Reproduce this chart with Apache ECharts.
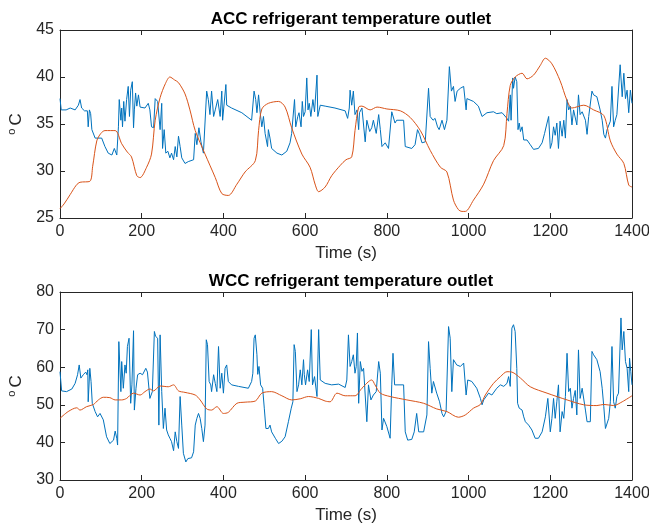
<!DOCTYPE html>
<html>
<head>
<meta charset="utf-8">
<script src="https://cdn.jsdelivr.net/npm/echarts@6/dist/echarts.min.js"></script>
<style>
html,body{margin:0;padding:0;background:#fff;}
#chart{width:649px;height:532px;}
</style>
</head>
<body>
<div id="chart"></div>
<script>
// ---- Data (time in s, temperature in degC) ----
var titles = ['ACC refrigerant temperature outlet', 'WCC refrigerant temperature outlet'];
var xTicks = [0, 200, 400, 600, 800, 1000, 1200, 1400];

var accBlueT = [0,3,15,25,37,45,49,53,60,67,69,72,75,78,86,102,110,118,127,133,139,143,145,149,151,153,156,159,163,167,170,173,177,180,182,185,188,192,196,208,216,220,224,229,233,239,242,245,249,251,255,259,264,269,273,278,282,286,290,294,298,302,306,314,327,331,335,340,345,351,355,359,363,367,371,376,380,386,392,396,398,406,408,420,445,469,475,479,482,486,490,494,498,502,508,510,514,518,531,543,555,563,567,574,577,582,585,590,593,596,600,604,607,610,614,619,623,629,631,637,649,673,698,704,708,710,714,718,722,727,731,733,739,747,751,758,763,767,774,780,784,788,796,804,808,812,815,820,824,841,845,849,861,869,875,880,886,894,902,906,913,918,924,928,935,941,947,953,958,963,967,972,980,988,992,994,996,1012,1024,1033,1045,1061,1069,1082,1094,1098,1102,1104,1108,1110,1114,1118,1121,1124,1127,1131,1135,1143,1151,1159,1171,1180,1186,1192,1196,1200,1204,1208,1212,1216,1220,1224,1229,1233,1237,1241,1245,1249,1253,1257,1261,1265,1269,1273,1278,1286,1290,1294,1302,1306,1314,1322,1327,1331,1335,1339,1347,1351,1355,1359,1363,1371,1376,1380,1384,1388,1392,1396,1400];
var accBlueV = [37.7,36.5,36.5,36.7,36.5,37.0,37.6,36.7,36.4,36.4,34.7,36.5,36.1,34.4,33.5,33.5,32.6,31.9,31.7,32.4,31.7,34.7,37.6,35.4,36.7,34.7,37.4,35.3,37.6,39.0,35.8,38.6,39.5,34.6,36.5,38.3,36.9,38.1,36.8,36.7,37.2,36.5,34.7,34.6,37.7,37.4,37.6,34.4,37.2,32.4,34.4,31.9,32.1,31.4,31.9,31.2,32.6,31.5,33.7,32.6,31.4,31.2,30.8,31.0,31.2,34.0,32.8,34.6,33.1,31.9,32.1,38.5,37.6,36.0,38.5,35.8,36.5,37.6,35.8,38.5,35.4,39.2,37.0,36.7,36.2,35.4,38.5,37.6,36.2,38.1,36.2,34.7,35.8,34.0,32.6,34.4,33.5,32.4,31.9,31.7,32.1,33.0,34.0,37.6,34.7,35.8,36.2,34.7,37.4,35.8,36.3,39.9,36.5,37.2,35.8,37.6,36.3,40.2,35.8,37.0,36.9,36.7,36.4,35.6,36.7,38.6,37.0,38.5,36.0,36.5,34.4,36.2,36.7,33.1,35.4,34.2,34.6,35.4,34.0,36.0,34.4,32.6,33.0,32.4,32.3,36.3,36.5,35.1,35.4,35.4,32.6,32.4,32.4,32.8,34.4,33.9,33.0,33.1,38.8,35.8,35.4,35.6,34.7,34.4,35.4,34.4,35.4,41.1,38.5,39.0,37.4,38.5,38.8,39.0,39.2,36.5,37.7,37.4,36.9,35.8,36.2,36.3,36.1,36.2,35.6,35.3,38.1,35.4,39.9,38.8,40.0,39.5,34.4,35.1,34.2,34.7,33.3,33.3,32.8,32.3,32.4,33.0,34.0,35.1,35.8,32.4,33.0,34.7,33.8,35.1,32.4,35.3,33.7,35.4,33.5,37.6,36.5,36.9,34.9,36.5,36.5,34.9,38.1,36.0,36.3,35.4,33.9,35.8,38.5,38.1,37.9,36.5,35.4,33.9,33.5,34.4,35.3,39.0,34.7,35.4,36.0,41.3,37.9,40.4,37.7,38.6,36.2,38.6,37.2];

var accRedT = [0,10,25,40,49,73,80,90,100,110,135,151,165,175,188,196,212,224,233,245,258,269,280,290,306,318,331,355,380,396,412,433,453,478,486,494,510,535,551,567,592,612,625,633,649,665,686,700,714,722,731,739,759,776,800,833,857,882,906,931,947,963,975,984,992,1012,1037,1061,1086,1094,1102,1114,1131,1143,1159,1175,1188,1204,1224,1241,1253,1282,1306,1331,1347,1363,1380,1392,1400];
var accRedV = [26.0,26.5,27.5,28.5,28.8,28.9,30.5,33.2,34.0,34.3,34.3,32.9,32.0,31.5,29.5,29.3,30.4,31.8,35.4,37.8,39.3,40.0,39.7,39.4,38.2,36.5,34.3,31.8,29.3,27.6,27.4,28.6,29.9,31.1,34.3,36.6,37.2,37.4,36.8,34.6,31.8,30.4,28.5,27.8,28.3,29.5,30.6,31.2,31.5,34.3,36.8,36.9,36.5,36.8,36.6,36.4,35.7,34.3,32.2,30.4,29.9,26.9,25.9,25.7,25.7,26.9,28.6,31.1,32.7,36.1,39.1,40.0,40.4,39.8,40.2,41.2,42.0,41.4,39.6,37.5,36.7,37.0,36.5,35.9,33.2,31.8,30.8,28.5,28.3];

var wccBlueT = [0,4,16,29,37,43,47,51,57,63,66,68,69,73,76,79,86,92,98,106,114,122,131,135,139,141,144,149,151,155,159,162,165,169,173,176,180,182,186,190,196,202,210,214,220,226,231,234,239,242,245,249,253,257,261,265,269,273,278,282,286,290,294,298,302,308,313,322,327,331,335,339,343,347,351,355,358,361,365,369,371,376,380,384,388,392,396,400,404,408,412,420,437,461,469,472,475,478,482,484,487,491,496,500,504,507,510,514,518,527,535,543,551,555,559,566,570,573,576,580,584,588,592,596,598,601,606,610,615,618,623,629,633,637,649,665,682,698,702,706,710,714,718,722,725,728,731,735,739,743,751,755,761,767,774,780,784,788,792,800,808,812,815,819,841,845,851,861,867,873,878,890,898,902,906,910,914,922,929,935,939,945,951,955,959,963,971,980,988,994,998,1008,1020,1029,1033,1037,1049,1057,1069,1078,1086,1094,1098,1102,1106,1110,1114,1118,1120,1124,1131,1135,1139,1147,1155,1163,1171,1180,1188,1194,1200,1204,1208,1212,1216,1220,1224,1229,1233,1237,1241,1245,1249,1253,1257,1261,1265,1269,1273,1278,1286,1290,1298,1302,1306,1314,1322,1327,1331,1335,1339,1343,1347,1351,1355,1359,1363,1367,1373,1376,1380,1384,1388,1392,1394,1397,1400];
var wccBlueV = [58.8,53.7,53.5,54.2,55.7,58.0,60.6,57.1,58.0,58.7,58.0,59.3,50.8,59.7,56.2,50.4,48.2,46.8,47.7,46.0,41.5,39.7,40.6,43.0,41.1,39.3,66.8,53.5,61.5,54.4,60.6,58.4,65.5,67.7,50.4,55.3,69.7,48.6,54.4,58.0,58.4,58.0,59.7,58.7,51.7,53.5,69.5,68.2,67.7,44.6,68.6,53.5,43.7,49.1,43.3,42.0,41.1,40.2,37.8,42.8,40.2,38.4,52.2,44.6,37.1,34.8,35.7,35.9,37.5,44.6,46.4,47.7,46.4,43.7,40.2,44.6,67.3,66.0,56.2,55.3,53.5,58.0,55.7,53.5,65.5,54.4,58.4,53.1,59.7,60.6,56.2,55.3,54.9,54.4,56.2,58.4,67.7,68.6,63.3,58.1,60.2,55.3,54.4,49.1,43.7,44.2,43.7,44.6,42.8,41.1,39.7,40.3,41.5,42.0,45.5,49.1,50.8,66.0,64.2,53.5,55.3,59.3,55.3,62.0,58.0,55.3,59.3,56.2,70.0,55.3,57.5,52.2,70.0,56.6,55.7,55.3,55.5,54.6,56.6,68.6,60.2,61.5,63.3,58.4,60.2,69.1,50.4,61.5,58.9,59.7,45.5,55.3,51.3,52.6,53.5,61.5,58.4,43.3,46.4,44.2,41.1,55.3,63.7,55.3,55.3,42.8,40.6,40.8,42.8,47.7,42.8,42.8,47.3,66.8,59.7,53.1,56.2,53.1,50.8,47.7,46.8,48.2,70.8,67.7,53.5,62.0,60.6,60.2,61.1,52.6,56.6,56.2,54.4,51.7,50.0,51.3,53.1,52.6,54.4,55.3,54.9,55.7,57.5,54.9,70.4,71.3,69.5,59.7,50.4,49.1,48.6,46.8,45.5,44.6,43.3,41.1,41.1,42.8,46.8,51.7,42.8,46.4,51.7,46.4,50.8,55.3,42.8,48.2,46.4,52.2,63.7,53.5,54.4,49.1,51.7,53.8,47.3,64.6,51.7,54.4,48.6,45.5,45.5,64.2,63.3,62.0,58.8,54.4,49.5,43.7,43.3,46.4,50.8,65.5,50.8,49.1,52.2,53.1,73.1,64.6,69.5,61.5,59.7,53.5,62.4,58.9,55.3];

var wccRedT = [0,20,41,49,65,82,94,106,122,135,151,163,180,196,208,220,229,245,265,278,290,306,331,343,359,371,384,400,412,433,453,478,494,518,543,567,588,608,633,649,661,678,698,722,739,763,771,784,808,849,890,922,947,975,992,1012,1029,1041,1061,1078,1094,1106,1127,1151,1192,1241,1282,1314,1331,1355,1376,1400];
var wccRedV = [46.4,48.2,49.2,48.6,49.5,50.1,51.3,52.0,51.9,51.3,51.3,51.7,53.1,52.6,53.5,54.2,53.7,55.0,54.8,55.3,53.7,53.3,52.6,51.3,48.9,48.6,49.5,47.7,48.0,50.4,50.7,51.0,53.1,53.5,52.4,51.3,51.6,52.2,51.7,51.0,50.8,53.1,52.4,52.4,54.4,56.6,55.3,53.1,52.2,51.3,50.4,48.9,48.2,46.7,47.3,49.1,50.1,52.6,55.7,57.5,58.8,58.7,57.1,54.8,53.1,51.3,50.0,49.8,50.1,49.8,50.8,52.4];

function pairs(t, v) { return t.map(function (x, i) { return [x, v[i]]; }); }

var AX = '#262626';
var BLUE = '#0072BD';
var RED = '#D95319';
var FONT = '"Liberation Sans", Arial, Helvetica, sans-serif';

function xAxisDef(grid, bottom) {
  return {
    type: 'value', gridIndex: grid, min: 0, max: 1400, interval: 200,
    position: bottom ? 'bottom' : 'top',
    name: bottom ? 'Time (s)' : '', nameLocation: 'middle', nameGap: 27,
    nameTextStyle: { color: AX, fontSize: 17, fontFamily: FONT },
    axisLine: { show: true, onZero: false, lineStyle: { color: AX, width: 1 } },
    axisTick: { show: true, inside: true, length: 5, lineStyle: { color: AX } },
    axisLabel: { show: bottom, color: AX, fontSize: 16, fontFamily: FONT, margin: 6,
      formatter: function (v) { return String(v); } },
    splitLine: { show: false }
  };
}
function yAxisDef(grid, left, min, max, interval) {
  return {
    type: 'value', gridIndex: grid, min: min, max: max, interval: interval,
    position: left ? 'left' : 'right',
    name: left ? '{s|o} {n|C}' : '', nameLocation: 'middle', nameGap: 34, nameRotate: 90,
    nameTextStyle: {
      color: AX, fontFamily: FONT,
      rich: {
        s: { fontSize: 11, fontFamily: FONT, color: AX, verticalAlign: 'top', lineHeight: 20 },
        n: { fontSize: 17, fontFamily: FONT, color: AX, lineHeight: 20 }
      }
    },
    axisLine: { show: true, onZero: false, lineStyle: { color: AX, width: 1 } },
    axisTick: { show: true, inside: true, length: 5, lineStyle: { color: AX } },
    axisLabel: { show: left, color: AX, fontSize: 16, fontFamily: FONT, margin: 6,
      formatter: function (v) { return String(v); } },
    splitLine: { show: false }
  };
}

var chart = echarts.init(document.getElementById('chart'), null, { renderer: 'canvas' });
chart.setOption({
  animation: false,
  backgroundColor: '#fff',
  title: [
    { text: titles[0], left: 346, top: 6, textAlign: 'center',
      textStyle: { fontSize: 17, fontWeight: 'bold', color: '#000', fontFamily: FONT } },
    { text: titles[1], left: 346, top: 268, textAlign: 'center',
      textStyle: { fontSize: 17, fontWeight: 'bold', color: '#000', fontFamily: FONT } }
  ],
  grid: [
    { left: 60, right: 17, top: 30, height: 188, outerBoundsMode: 'none', containLabel: false },
    { left: 60, right: 17, top: 292, height: 188, outerBoundsMode: 'none', containLabel: false }
  ],
  xAxis: [xAxisDef(0, true), xAxisDef(0, false), xAxisDef(1, true), xAxisDef(1, false)],
  yAxis: [yAxisDef(0, true, 25, 45, 5), yAxisDef(0, false, 25, 45, 5),
          yAxisDef(1, true, 30, 80, 10), yAxisDef(1, false, 30, 80, 10)],
  series: [
    { type: 'line', xAxisIndex: 0, yAxisIndex: 0, data: pairs(accBlueT, accBlueV), showSymbol: false,
      lineStyle: { color: BLUE, width: 1 }, itemStyle: { color: BLUE } },
    { type: 'line', xAxisIndex: 0, yAxisIndex: 0, data: pairs(accRedT, accRedV), showSymbol: false, smooth: 0.3,
      lineStyle: { color: RED, width: 1 }, itemStyle: { color: RED } },
    { type: 'line', xAxisIndex: 2, yAxisIndex: 2, data: pairs(wccBlueT, wccBlueV), showSymbol: false,
      lineStyle: { color: BLUE, width: 1 }, itemStyle: { color: BLUE } },
    { type: 'line', xAxisIndex: 2, yAxisIndex: 2, data: pairs(wccRedT, wccRedV), showSymbol: false, smooth: 0.3,
      lineStyle: { color: RED, width: 1 }, itemStyle: { color: RED } }
  ]
});
</script>
</body>
</html>
